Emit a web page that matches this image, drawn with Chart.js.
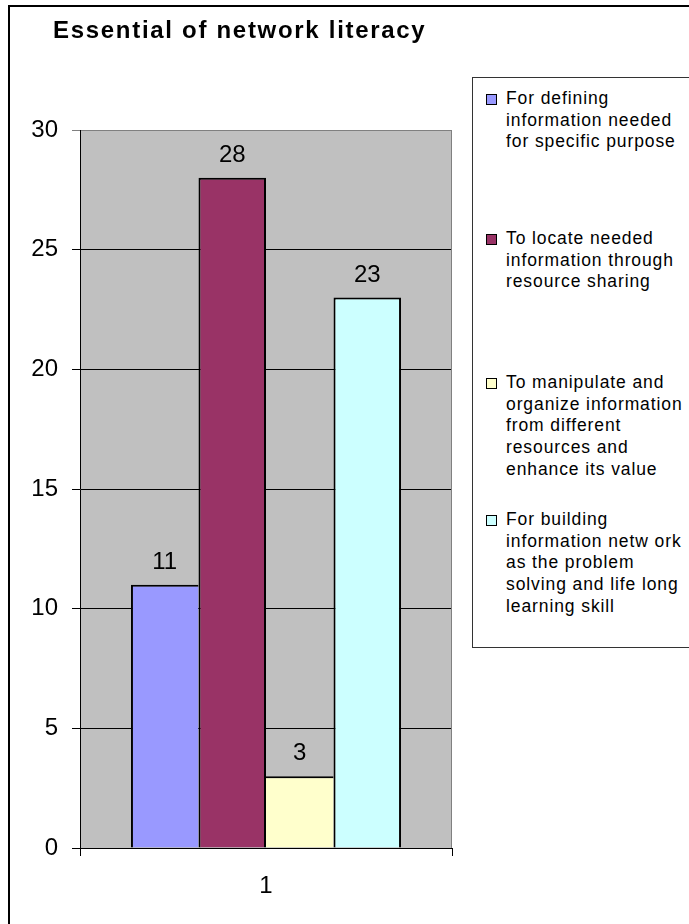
<!DOCTYPE html>
<html>
<head>
<meta charset="utf-8">
<script src="https://cdn.jsdelivr.net/npm/chart.js@4"></script>
<style>
  html, body { margin: 0; padding: 0; background: #fff; }
  #wrap { position: relative; width: 689px; height: 924px; overflow: hidden; font-family: "Liberation Sans", Arial, sans-serif; }
  #chart { position: absolute; left: 0; top: 0; }
  #frame { position: absolute; left: 8px; top: 5px; width: 700px; height: 940px; border: 2px solid #000; box-sizing: border-box; }
  #title { position: absolute; left: 53px; top: 16px; font-weight: bold; font-size: 24px; letter-spacing: 1.7px; color: #000; white-space: nowrap; }
  #legend { position: absolute; left: 472px; top: 77px; width: 240px; height: 571px; border: 1px solid #333; box-sizing: border-box; background: #fff; }
  .item { position: absolute; left: 13px; }
  .swatch { position: absolute; left: 0; top: 6px; width: 9px; height: 9px; border: 1px solid #000; }
  .text { position: absolute; left: 20px; top: 0; font-size: 17.5px; line-height: 21.7px; letter-spacing: 0.9px; white-space: nowrap; color: #000; }
</style>
</head>
<body>
<div id="wrap">
  <div id="frame"></div>
  <canvas id="chart" width="689" height="924"></canvas>
  <div id="title">Essential of network literacy</div>
  <div id="legend"></div>
</div>
<script>
// chart data
const categories = ['1'];
const seriesNames = [
    ['For defining', 'information needed', 'for specific purpose'],
    ['To locate needed', 'information through', 'resource sharing'],
    ['To manipulate and', 'organize information', 'from different', 'resources and', 'enhance its value'],
    ['For building', 'information netw ork', 'as the problem', 'solving and life long', 'learning skill']
];
const seriesValues = [11, 28, 3, 23];
const yTicks = [0, 5, 10, 15, 20, 25, 30];

const colors = ['#9999FF', '#993366', '#FFFFCC', '#CCFFFF'];
const legendTops = [10, 150, 294, 431];   // item offsets inside the legend box

Chart.defaults.font.family = '"Liberation Sans", Arial, sans-serif';
Chart.defaults.color = '#000';

// legend drawn as html so each entry wraps like the original
const legendEl = document.getElementById('legend');
seriesNames.forEach((lines, i) => {
    const item = document.createElement('div');
    item.className = 'item';
    item.style.top = legendTops[i] + 'px';
    item.innerHTML = '<div class="swatch" style="background:' + colors[i] + '"></div>' +
        '<div class="text">' + lines.join('<br>') + '</div>';
    legendEl.appendChild(item);
});

// adjacent bars share one outline: only the taller side draws the common edge
function edgeWidths(i) {
    const n = seriesValues.length, v = seriesValues[i], w = 2;
    return {
        top: w,
        bottom: 0,
        left: (i === 0 || seriesValues[i - 1] < v) ? w : 0,
        right: (i === n - 1 || seriesValues[i + 1] <= v) ? w : 0
    };
}

// gray plot background plus the right-hand border
const plotArea = {
    id: 'plotArea',
    beforeDraw(chart) {
        const { ctx, chartArea: a } = chart;
        ctx.save();
        ctx.fillStyle = '#C0C0C0';
        ctx.fillRect(a.left, a.top, a.right - a.left, a.bottom - a.top);
        ctx.restore();
    },
    afterDraw(chart) {
        const { ctx, chartArea: a } = chart;
        ctx.save();
        ctx.strokeStyle = '#808080';
        ctx.lineWidth = 1;
        ctx.beginPath();
        ctx.moveTo(a.right - 0.5, a.top);
        ctx.lineTo(a.right - 0.5, a.bottom);
        ctx.stroke();
        ctx.restore();
    }
};

// value labels above each bar
const valueLabels = {
    id: 'valueLabels',
    afterDatasetsDraw(chart) {
        const ctx = chart.ctx;
        ctx.save();
        ctx.font = '24px "Liberation Sans", Arial, sans-serif';
        ctx.fillStyle = '#000';
        ctx.textAlign = 'center';
        ctx.textBaseline = 'alphabetic';
        chart.data.datasets.forEach((ds, i) => {
            const bar = chart.getDatasetMeta(i).data[0];
            ctx.fillText(String(ds.data[0]), bar.x, bar.y - 16);
        });
        ctx.restore();
    }
};

new Chart(document.getElementById('chart').getContext('2d'), {
    type: 'bar',
    data: {
        labels: categories,
        datasets: seriesValues.map((v, i) => ({
            label: seriesNames[i].join(' '),
            data: [v],
            backgroundColor: colors[i],
            borderColor: '#000',
            borderWidth: edgeWidths(i),
            borderSkipped: false,
            categoryPercentage: 0.726,
            barPercentage: 1
        }))
    },
    options: {
        responsive: false,
        animation: false,
        layout: { padding: { left: 0, right: 237, top: 130, bottom: 26 } },
        plugins: {
            legend: { display: false },
            tooltip: { enabled: false },
            title: { display: false }
        },
        scales: {
            x: {
                afterFit(scale) { scale.height = 50; },
                grid: { offset: true, drawOnChartArea: false, drawTicks: true, tickLength: 8, color: '#000', lineWidth: 1 },
                border: { color: '#000', width: 1 },
                ticks: { font: { size: 24 }, color: '#000', padding: 16 }
            },
            y: {
                min: 0,
                max: 30,
                afterFit(scale) { scale.width = 80; },
                afterBuildTicks(scale) { scale.ticks = yTicks.map(v => ({ value: v })); },
                grid: {
                    color: (c) => (c.tick && c.tick.value === 30 ? '#808080' : '#000'),
                    lineWidth: 1,
                    tickLength: 8
                },
                border: { color: '#000', width: 1 },
                ticks: { font: { size: 24 }, color: '#000', padding: 14 }
            }
        }
    },
    plugins: [plotArea, valueLabels]
});
</script>
</body>
</html>
